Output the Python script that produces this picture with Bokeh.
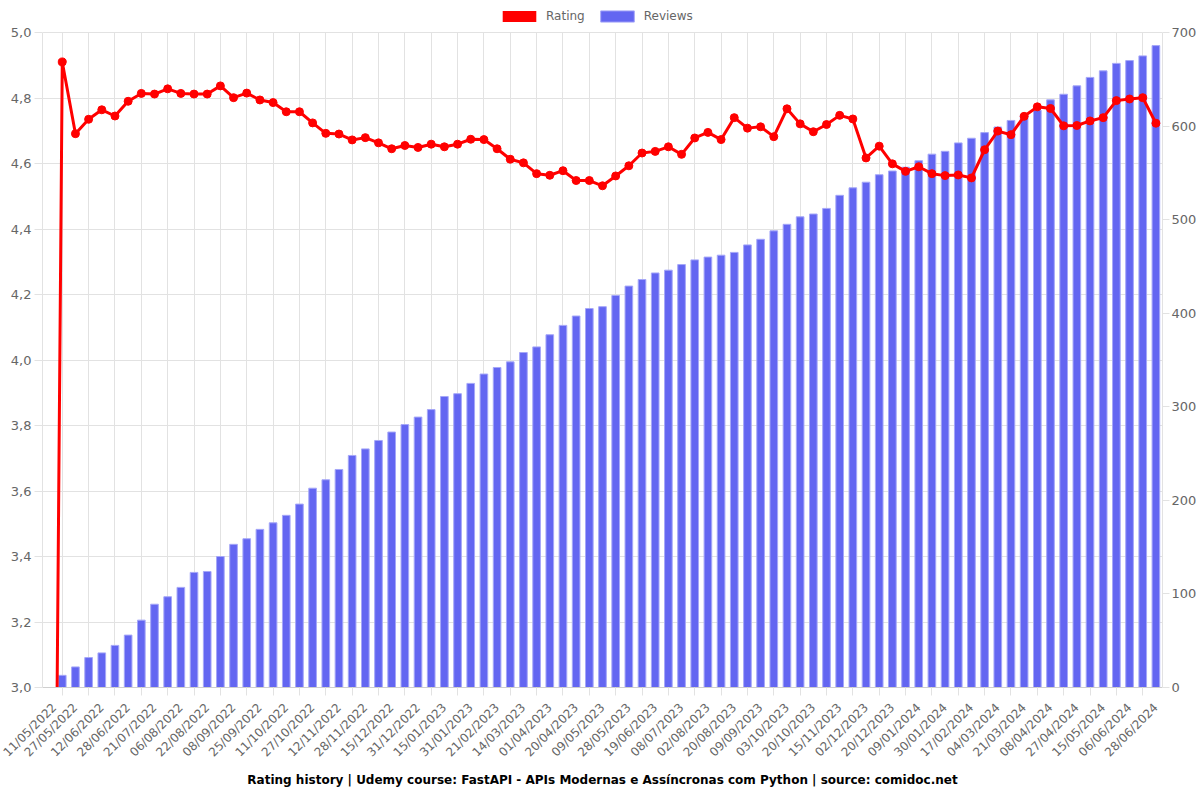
from bokeh.plotting import figure
from bokeh.models import (Range1d, LinearAxis, FixedTicker, CustomJSTickFormatter,
                          Legend, LegendItem, Grid, ColumnDataSource, Title)
from bokeh.embed import file_html
from bokeh.resources import INLINE
import math

# Tick labels (every other data point is labelled)
dates = ["11/05/2022", "27/05/2022", "12/06/2022", "28/06/2022", "21/07/2022", "06/08/2022",
         "22/08/2022", "08/09/2022", "25/09/2022", "11/10/2022", "27/10/2022", "12/11/2022",
         "28/11/2022", "15/12/2022", "31/12/2022", "15/01/2023", "31/01/2023", "21/02/2023",
         "14/03/2023", "01/04/2023", "20/04/2023", "09/05/2023", "28/05/2023", "19/06/2023",
         "08/07/2023", "02/08/2023", "20/08/2023", "09/09/2023", "03/10/2023", "20/10/2023",
         "15/11/2023", "02/12/2023", "20/12/2023", "09/01/2024", "30/01/2024", "17/02/2024",
         "04/03/2024", "21/03/2024", "08/04/2024", "27/04/2024", "15/05/2024", "06/06/2024",
         "28/06/2024"]

reviews = [0, 13, 22, 32, 37, 45, 56, 72, 89, 97, 107, 123, 124, 140, 153, 159, 169, 176, 184,
           196, 213, 222, 233, 248, 255, 264, 273, 281, 289, 297, 311, 314, 325, 335, 342, 348,
           358, 364, 377, 387, 397, 405, 407, 419, 429, 436, 443, 446, 452, 457, 460, 462, 465,
           473, 479, 488, 495, 503, 506, 512, 526, 534, 540, 548, 552, 556, 563, 570, 573, 582,
           587, 593, 599, 606, 612, 617, 628, 634, 643, 652, 659, 667, 670, 675, 686]

ratings = [0.0, 4.910, 4.691, 4.735, 4.764, 4.745, 4.790, 4.814, 4.812, 4.828, 4.814, 4.812,
           4.812, 4.837, 4.801, 4.815, 4.794, 4.786, 4.758, 4.758, 4.724, 4.692, 4.690, 4.672,
           4.679, 4.663, 4.645, 4.655, 4.649, 4.659, 4.651, 4.659, 4.674, 4.673, 4.645, 4.613,
           4.602, 4.569, 4.564, 4.578, 4.548, 4.548, 4.532, 4.562, 4.593, 4.632, 4.637, 4.651,
           4.628, 4.678, 4.695, 4.673, 4.740, 4.708, 4.712, 4.682, 4.767, 4.721, 4.697, 4.719,
           4.747, 4.736, 4.617, 4.653, 4.599, 4.576, 4.590, 4.569, 4.563, 4.565, 4.556, 4.642,
           4.699, 4.688, 4.744, 4.773, 4.768, 4.715, 4.716, 4.730, 4.740, 4.792, 4.797, 4.801,
           4.723]

n = len(ratings)
idx = list(range(n))
src = ColumnDataSource(dict(x=idx, reviews=reviews, rating=ratings))

GRID = "#e2e2e2"
TXT = "#666666"
FONT = "DejaVu Sans"

# layout: plotting area of PH px, with HEAD px of headroom (for the legend) above it
PH, HEAD = 655, 32
FH = PH + HEAD
L_LO, L_HI = 3.0, 5.0
R_LO, R_HI = 0, 700
y_end = L_LO + (L_HI - L_LO) * FH / PH
r_end = R_LO + (R_HI - R_LO) * FH / PH

p = figure(width=1200, frame_height=FH, output_backend="svg", toolbar_location=None,
           x_range=Range1d(-0.5, n - 0.5), y_range=Range1d(L_LO, y_end),
           min_border_left=42, min_border_right=38, min_border_top=0, min_border_bottom=0,
           background_fill_color="white", border_fill_color="white")
p.outline_line_color = None
p.extra_y_ranges = {"right": Range1d(R_LO, r_end)}

# grids
p.xgrid.ticker = FixedTicker(ticks=[i for i in idx if i % 2 == 1])
p.xgrid.grid_line_color = GRID
p.xgrid.cross_bounds = (L_LO, L_HI)
p.ygrid.grid_line_color = GRID

# x axis
xa = p.xaxis[0]
xa.ticker = FixedTicker(ticks=[i for i in idx if i % 2 == 0],
                        minor_ticks=[i for i in idx if i % 2 == 1])
xa.major_label_overrides = {2 * i: d for i, d in enumerate(dates)}
xa.major_label_orientation = math.pi / 4
xa.major_tick_line_color = None
xa.major_tick_out = 6
xa.major_tick_in = 0
xa.minor_tick_line_color = GRID
xa.minor_tick_out = 8
xa.minor_tick_in = 0
xa.axis_line_color = "#cfcfcf"
xa.major_label_text_color = TXT
xa.major_label_text_font = FONT
xa.major_label_text_font_size = "12px"
xa.major_label_standoff = 10

# left axis
ya = p.yaxis[0]
ya.ticker = FixedTicker(ticks=[3.0, 3.2, 3.4, 3.6, 3.8, 4.0, 4.2, 4.4, 4.6, 4.8, 5.0])
ya.formatter = CustomJSTickFormatter(code="return tick.toFixed(1).replace('.', ',');")
ya.bounds = (L_LO, L_HI)
ya.axis_line_color = GRID
ya.major_tick_line_color = GRID
ya.major_tick_out = 8
ya.major_tick_in = 0
ya.minor_tick_line_color = None
ya.major_label_text_color = TXT
ya.major_label_text_font = FONT
ya.major_label_text_font_size = "13px"
ya.major_label_standoff = 3

# right axis
ra = LinearAxis(y_range_name="right", ticker=FixedTicker(ticks=[0, 100, 200, 300, 400, 500, 600, 700]))
ra.bounds = (R_LO, R_HI)
ra.axis_line_color = GRID
ra.major_tick_line_color = GRID
ra.major_tick_out = 7
ra.major_tick_in = 0
ra.minor_tick_line_color = None
ra.major_label_text_color = TXT
ra.major_label_text_font = FONT
ra.major_label_text_font_size = "13px"
ra.major_label_standoff = 2
p.add_layout(ra, "right")
p.add_layout(Grid(dimension=1, axis=ra, grid_line_color=GRID))

# bars
bars = p.vbar(x="x", top="reviews", bottom=0, width=0.58, source=src, y_range_name="right",
              fill_color="#6366f1", line_color="#a5a7f8", line_width=1)

# legend proxy for the red box (zero-height bars, invisible in the plot area)
proxy = p.vbar(x="x", top=0, bottom=0, width=0.5, source=src, y_range_name="right",
               fill_color="#ff0000", line_color=None)

# rating line
p.line(x="x", y="rating", source=src, line_color="#ff0000", line_width=3)
p.scatter(x="x", y="rating", source=src, size=8, fill_color="#ff0000", line_color="#ff0000")

legend = Legend(items=[LegendItem(label="Rating", renderers=[proxy]),
                       LegendItem(label="Reviews", renderers=[bars])],
                orientation="horizontal", location=(456, FH - 23),
                glyph_width=42, glyph_height=14, label_standoff=6, spacing=11,
                label_text_color=TXT, label_text_font=FONT, label_text_font_size="12px",
                label_height=14, border_line_color=None, background_fill_alpha=0,
                padding=0, margin=0)
p.add_layout(legend, "center")

title = Title(text="Rating history | Udemy course: FastAPI - APIs Modernas e Assíncronas com Python | source: comidoc.net",
              align="center", text_font=FONT, text_font_style="bold", text_font_size="12px",
              text_color="#000000", standoff=7)
p.add_layout(title, "below")

open("out.html", "w").write(file_html(p, INLINE))
